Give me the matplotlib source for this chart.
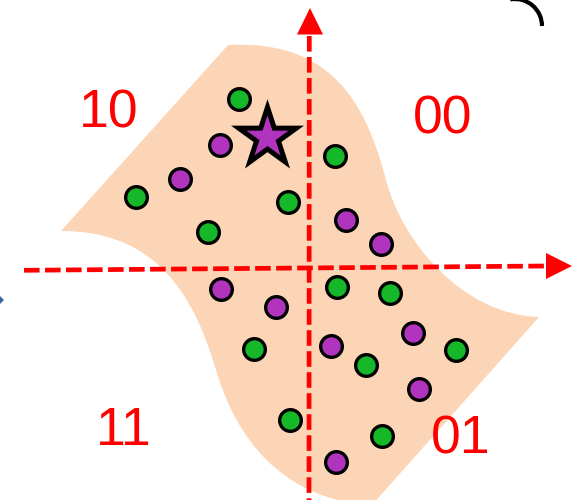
import matplotlib
matplotlib.use('Agg')
import matplotlib.pyplot as plt
from matplotlib.path import Path
from matplotlib.patches import PathPatch, Polygon, Arc
from matplotlib.markers import MarkerStyle

plt.rcParams['font.family'] = ['Liberation Sans', 'DejaVu Sans']

# 数据点（像素坐标，y 向下）
green_x = [136, 239, 335, 288, 208, 337, 254, 390, 366, 456, 290, 382]
green_y = [197, 99, 156, 202, 232, 287, 349, 293, 365, 350, 420, 436]
purple_x = [180, 220, 346, 381, 221, 276, 331, 413, 419, 336]
purple_y = [179, 145, 220, 244, 289, 307, 346, 333, 389, 462]
star_x = [266.5]
star_y = [137]

labels = ['10', '00', '11', '01']
label_x = [108.5, 443, 124, 461]
label_y = [128, 133, 445, 453]

RED = '#FF0000'
GREEN = '#14B828'
PURPLE = '#B034BE'
PEACH = '#FBD5B5'

fig = plt.figure(figsize=(5.73, 5.0), dpi=100)
ax = fig.add_axes([0, 0, 1, 1])
ax.set_xlim(0, 573)
ax.set_ylim(500, 0)
ax.axis('off')

# 背景区域：两条 S 形边 + 两条直边
verts = [
    (61, 231), (228, 45),
    (330, 40), (365, 100), (386, 180),
    (403, 245), (465, 315), (539, 317),
    (372, 505),
    (280, 500), (235, 435), (216, 370),
    (195, 300), (160, 231), (61, 231),
    (61, 231),
]
codes = [Path.MOVETO, Path.LINETO,
         Path.CURVE4, Path.CURVE4, Path.CURVE4,
         Path.CURVE4, Path.CURVE4, Path.CURVE4,
         Path.LINETO,
         Path.CURVE4, Path.CURVE4, Path.CURVE4,
         Path.CURVE4, Path.CURVE4, Path.CURVE4,
         Path.CLOSEPOLY]
ax.add_patch(PathPatch(Path(verts, codes), facecolor=PEACH, edgecolor='none', zorder=1))

# 虚线坐标轴
dash = (0, (3.3, 1.15))
ax.plot([24, 546], [270.3, 266], color=RED, lw=3.4, linestyle=dash, zorder=2)
ax.plot([309.3, 309], [36, 505], color=RED, lw=3.4, linestyle=dash, zorder=2)
ax.add_patch(Polygon([(572, 266), (546, 253), (546, 279)], closed=True,
                     facecolor=RED, edgecolor='none', zorder=2))
ax.add_patch(Polygon([(310, 8), (297, 34.5), (323, 34.5)], closed=True,
                     facecolor=RED, edgecolor='none', zorder=2))

# 点
ax.scatter(green_x, green_y, s=243, c=GREEN, edgecolors='black', linewidths=2.4, zorder=3)
ax.scatter(purple_x, purple_y, s=243, c=PURPLE, edgecolors='black', linewidths=2.4, zorder=3)
ax.scatter(star_x, star_y, s=1900, c=PURPLE, edgecolors='black', linewidths=3.6,
           marker=MarkerStyle('*', joinstyle='miter'), joinstyle='miter', zorder=4)

# 象限标签
for t, x, y in zip(labels, label_x, label_y):
    ax.text(x, y, t, color=RED, fontsize=38.5, ha='center', va='baseline', zorder=5)

# 右上角弧线、左侧小箭头
ax.add_patch(Arc((515, 26), 54, 54, theta1=-100, theta2=0, color='black', lw=3, zorder=5))
ax.add_patch(Polygon([(0, 296), (4, 300), (0, 304)], closed=True,
                     facecolor='#3A6A9A', edgecolor='none', zorder=5))

plt.savefig('out.png', dpi=100)
